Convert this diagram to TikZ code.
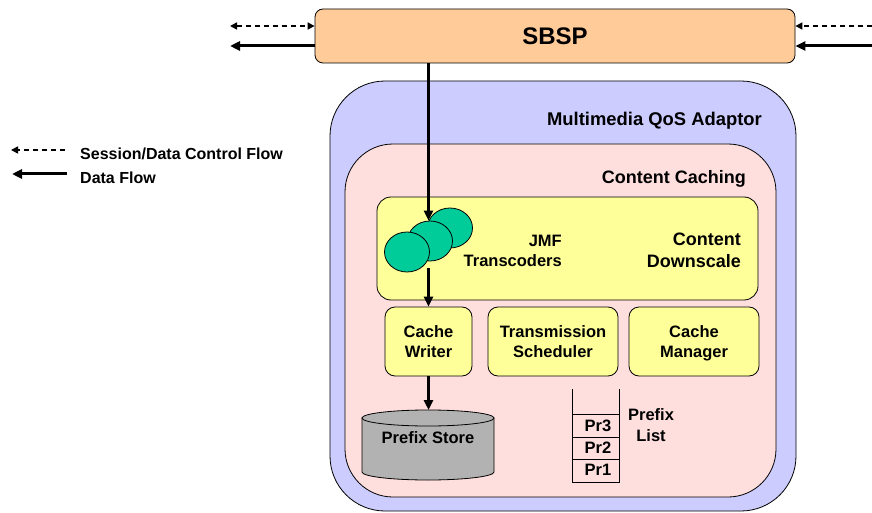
\documentclass[tikz,border=0pt]{standalone}
\usepackage{fontspec}
\setmainfont{Liberation Sans}
\usetikzlibrary{arrows.meta,positioning,calc,shapes.geometric}
\definecolor{peach}{RGB}{255,204,153}
\definecolor{lav}{RGB}{204,204,255}
\definecolor{pinkbg}{RGB}{255,222,222}
\definecolor{ylw}{RGB}{255,255,153}
\definecolor{grn}{RGB}{0,204,153}
\definecolor{gry}{RGB}{178,178,178}
\tikzset{
  box/.style={draw=black, line width=0.8pt, rectangle},
  ybox/.style={box, fill=ylw, rounded corners=10pt, align=center, font=\fs{16.5}},
  tc/.style={draw=black, line width=0.8pt, ellipse, fill=grn, minimum width=45pt, minimum height=40pt, inner sep=0pt},
  data/.style={line width=3pt, -{Triangle[length=10pt,width=9pt]}},
  ctrl/.style={line width=1.6pt, dash pattern=on 5pt off 4pt, -{Triangle[length=7pt,width=7pt]}},
  lbl/.style={font=\fs{18}, inner sep=0pt},
}
\newcommand\fs[1]{\fontsize{#1}{#1}\selectfont\bfseries}
\begin{document}
\begin{tikzpicture}[x=1pt,y=-1pt]
\useasboundingbox (0,0) rectangle (872,513);
% containers
\node[box, fill=lav, rounded corners=55pt, minimum width=466pt, minimum height=430pt] (qos) at (563,296) {};
\node[box, fill=pinkbg, rounded corners=48pt, minimum width=431pt, minimum height=353pt] (cc) at (560.5,320.5) {};
\node[lbl, anchor=east, font=\fs{18.4}] (qoslbl) at (762,121) {Multimedia QoS Adaptor};
\node[lbl, anchor=east] (cclbl) at (746,179) {Content Caching};
% SBSP
\node[box, fill=peach, rounded corners=8pt, minimum width=480pt, minimum height=54pt, font=\fs{24}] (sbsp) at (555,36) {SBSP};
% content downscale
\node[box, fill=ylw, rounded corners=14pt, minimum width=381pt, minimum height=103pt] (cd) at (567.5,248.5) {};
\node[lbl, anchor=east, align=right, font=\fs{18}] (cdlbl) at (741,250) {Content\\[4pt]Downscale};
\node[lbl, anchor=east, align=right, font=\fs{16.5}] (jmf) at (562,251) {JMF\\[3pt]Transcoders};
\node[tc] (t3) at (450,228) {};
\node[tc] (t2) at (430,241) {};
\node[tc] (t1) at (407,252) {};
% small boxes
\node[ybox, minimum width=87pt, minimum height=69pt] (cw) at (428.5,341.5) {Cache\\[3pt]Writer};
\node[ybox, minimum width=130pt, minimum height=69pt] (ts) at (553,341.5) {Transmission\\[3pt]Scheduler};
\node[ybox, minimum width=130pt, minimum height=69pt] (cm) at (694,341.5) {Cache\\[3pt]\raisebox{0pt}[\height][0pt]{Manager}};
% prefix store cylinder
\draw[line width=0.8pt, fill=gry] (362,418) -- (362,472) arc[start angle=180, end angle=0, x radius=66, y radius=8] -- (494,418) -- cycle;
\draw[line width=0.8pt, fill=gry] (428,418) ellipse[x radius=66, y radius=8];
\coordinate (storetop) at (428.5,410);
\node[font=\fs{16.5}, inner sep=0pt] (store) at (428,438) {Prefix Store};
% prefix list
\draw[line width=1pt] (572,389) -- (572,482) -- (619,482) -- (619,389);
\draw[line width=1pt] (572,414) -- (619,414) (572,437) -- (619,437) (572,459) -- (619,459);
\node[font=\fs{16.5}, inner sep=0pt] (pr3) at (598,426) {Pr3};
\node[font=\fs{16.5}, inner sep=0pt] (pr2) at (598,448) {Pr2};
\node[font=\fs{16.5}, inner sep=0pt] (pr1) at (598,470) {Pr1};
\node[font=\fs{16.5}, inner sep=0pt, align=center] (pl) at (651,425) {Prefix\\[4pt]List};
% connectors
\draw[data] (sbsp.south -| cw.north) -- (t2.north -| cw.north);
\coordinate (tcout) at (428.5,268);
\draw[data] (tcout) -- (cw.north);
\draw[data] (cw.south) -- (storetop);
% SBSP side flows
\coordinate (lc) at (230,26);
\coordinate (ld) at (230,46);
\coordinate (rc) at (872,26);
\coordinate (rd) at (872,46);
\draw[ctrl, {Triangle[length=7pt,width=7pt]}-{Triangle[length=7pt,width=7pt]}] (lc) -- (sbsp.west |- lc);
\draw[data] (sbsp.west |- ld) -- (ld);
\draw[ctrl] (rc) -- (sbsp.east |- rc);
\draw[data] (rd) -- (sbsp.east |- rd);
% legend
\coordinate (lg1a) at (65,150);
\coordinate (lg1b) at (11,150);
\coordinate (lg2a) at (67,174);
\coordinate (lg2b) at (12,174);
\draw[ctrl] (lg1a) -- (lg1b);
\draw[data] (lg2a) -- (lg2b);
\node[font=\fs{16}, anchor=west, inner sep=0pt] (lgt1) at (80,154) {Session/Data Control Flow};
\node[font=\fs{16}, anchor=west, inner sep=0pt] (lgt2) at (80,178) {Data Flow};
\end{tikzpicture}
\end{document}
